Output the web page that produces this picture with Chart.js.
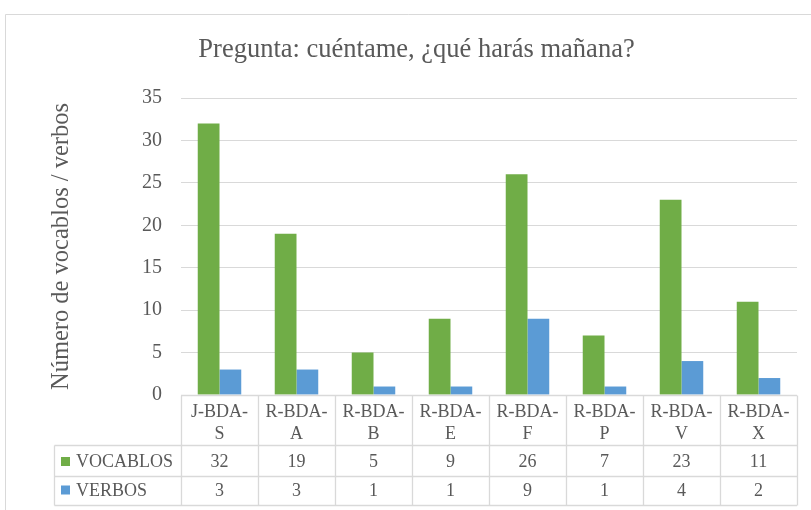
<!DOCTYPE html>
<html>
<head>
<meta charset="utf-8">
<script src="https://cdn.jsdelivr.net/npm/chart.js@4"></script>
<style>
html,body{margin:0;padding:0;background:#fff;}
#wrap{position:relative;width:811px;height:510px;}
</style>
</head>
<body>
<div id="wrap"><canvas id="c" width="811" height="510"></canvas></div>
<script>
const chartTitle = "Pregunta: cuéntame, ¿qué harás mañana?";
const yTitle = "Número de vocablos / verbos";
const categories = ["J-BDA-S","R-BDA-A","R-BDA-B","R-BDA-E","R-BDA-F","R-BDA-P","R-BDA-V","R-BDA-X"];
const seriesNames = ["VOCABLOS","VERBOS"];
const vocablos = [32,19,5,9,26,7,23,11];
const verbos = [3,3,1,1,9,1,4,2];
const seriesColors = ["#70ad47","#5b9bd5"];

const FONT = "'Liberation Serif','Times New Roman',serif";
const TXT = "#595959";
const LINE = "#d9d9d9";

const framePlugin = {
  id: 'frame',
  beforeDraw(chart) {
    const ctx = chart.ctx;
    ctx.save();
    ctx.fillStyle = '#fff';
    ctx.fillRect(0,0,chart.width,chart.height);
    ctx.strokeStyle = LINE;
    ctx.lineWidth = 1;
    ctx.beginPath();
    ctx.moveTo(5.5, chart.height);
    ctx.lineTo(5.5, 14.5);
    ctx.lineTo(chart.width, 14.5);
    ctx.stroke();
    ctx.restore();
  },
  afterDraw(chart) {
    const ctx = chart.ctx;
    const area = chart.chartArea;
    const xs = chart.scales.x;
    const colW = (area.right - area.left) / categories.length;
    const top = Math.round(area.bottom) + 0.5;
    const r1 = top + 50, r2 = r1 + 31, r3 = r2 + 29;
    const legL = 54.5;
    ctx.save();
    // title
    ctx.fillStyle = TXT;
    ctx.font = "26.5px " + FONT;
    ctx.textAlign = 'center';
    ctx.textBaseline = 'alphabetic';
    ctx.fillText(chartTitle, 416.5, 57);
    // table lines
    ctx.strokeStyle = LINE;
    ctx.lineWidth = 1.3;
    ctx.beginPath();
    ctx.moveTo(area.left, top); ctx.lineTo(area.right, top);
    [r1, r2, r3].forEach(y => { ctx.moveTo(legL, y); ctx.lineTo(area.right, y); });
    for (let i = 0; i <= categories.length; i++) {
      const x = Math.round(area.left + i * colW) + 0.5;
      ctx.moveTo(x, top); ctx.lineTo(x, r3);
    }
    ctx.moveTo(legL, r1); ctx.lineTo(legL, r3);
    ctx.stroke();
    // header labels
    ctx.font = "18px " + FONT;
    ctx.fillStyle = TXT;
    ctx.textAlign = 'center';
    categories.forEach((c, i) => {
      const cx = xs.getPixelForValue(i);
      const k = c.lastIndexOf('-');
      ctx.fillText(c.slice(0, k + 1), cx, top + 21.5);
      ctx.fillText(c.slice(k + 1), cx, top + 43.5);
    });
    // rows
    const rows = [vocablos, verbos];
    const baselines = [r1 + 21.5, r2 + 19];
    rows.forEach((vals, ri) => {
      ctx.textAlign = 'center';
      ctx.fillStyle = TXT;
      vals.forEach((v, i) => ctx.fillText(String(v), xs.getPixelForValue(i), baselines[ri]));
      ctx.fillStyle = seriesColors[ri];
      ctx.fillRect(61, baselines[ri] - 10, 9, 9);
      ctx.fillStyle = TXT;
      ctx.textAlign = 'left';
      ctx.fillText(seriesNames[ri], 76, baselines[ri]);
    });
    ctx.restore();
  }
};

new Chart(document.getElementById('c'), {
  type: 'bar',
  data: {
    labels: categories,
    datasets: [
      { label: seriesNames[0], data: vocablos, backgroundColor: seriesColors[0] },
      { label: seriesNames[1], data: verbos, backgroundColor: seriesColors[1] }
    ]
  },
  options: {
    responsive: false,
    devicePixelRatio: 1,
    animation: false,
    categoryPercentage: 0.565,
    barPercentage: 1,
    layout: { padding: { left: 0, right: 14, top: 98, bottom: 115 } },
    plugins: { legend: { display: false }, title: { display: false }, tooltip: { enabled: false } },
    scales: {
      x: { display: false },
      y: {
        min: 0, max: 35,
        afterFit(scale) { scale.width = 181; },
        ticks: { stepSize: 5, padding: 19, color: TXT, font: { family: FONT, size: 20 } },
        grid: { color: LINE, lineWidth: 1, drawTicks: false },
        border: { display: false },
        title: { display: true, text: yTitle, color: TXT, font: { family: FONT, size: 24.5 }, padding: { top: 47, bottom: 0 } }
      }
    }
  },
  plugins: [framePlugin]
});
</script>
</body>
</html>
